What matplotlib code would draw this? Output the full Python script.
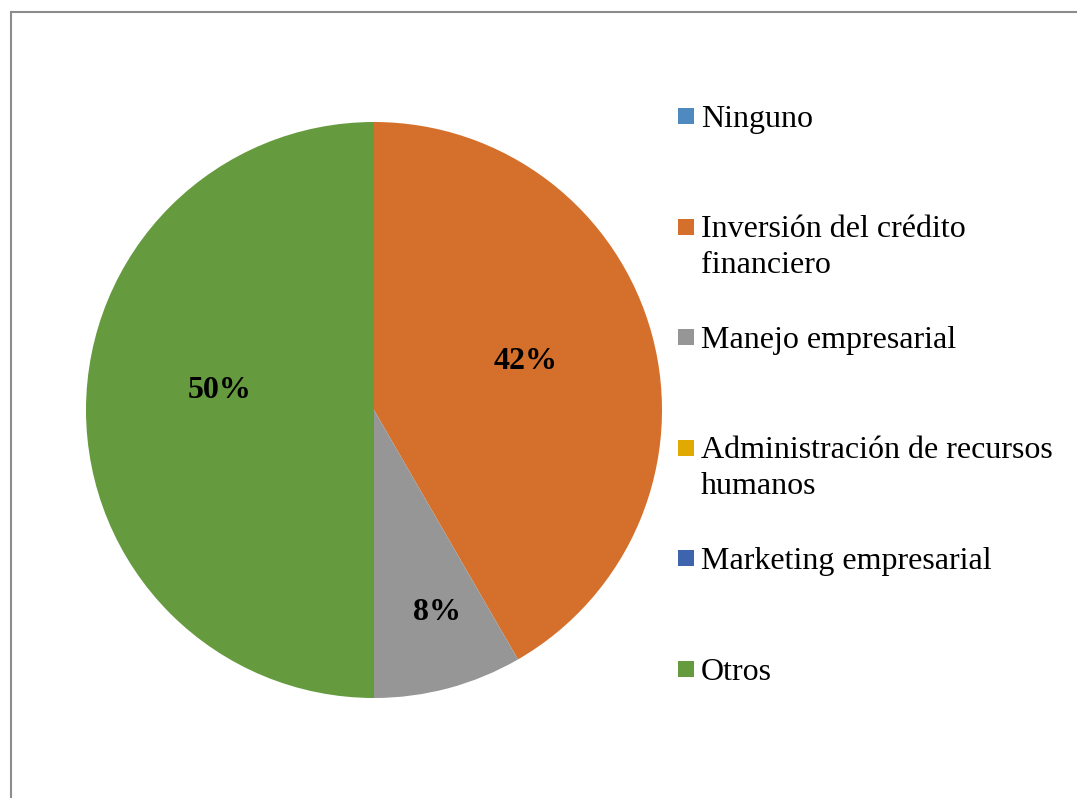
import matplotlib.pyplot as plt
from matplotlib.patches import Rectangle
from matplotlib.lines import Line2D

plt.rcParams['font.family'] = ['Liberation Serif', 'DejaVu Serif']

# Data (counts; shown as 42%, 8%, 50%)
categories = ["Ninguno", "Inversión del crédito\nfinanciero", "Manejo empresarial",
              "Administración de recursos\nhumanos", "Marketing empresarial", "Otros"]
values = [0, 5, 1, 0, 0, 6]
colors = ['#4E8AC0', '#D4702B', '#969696', '#E0AA00', '#3D64AD', '#659B3E']

fig = plt.figure(figsize=(10.77, 7.98), dpi=100)

# outer frame (right and bottom edges fall outside the image)
fig.add_artist(Line2D([10.5 / 1077, 1.0], [1 - 12 / 798, 1 - 12 / 798],
                      transform=fig.transFigure, color='#8C8C8C', lw=1.5))
fig.add_artist(Line2D([10.5 / 1077, 10.5 / 1077], [0.0, 1 - 12 / 798],
                      transform=fig.transFigure, color='#8C8C8C', lw=1.5))

# pie axes: centre (374, 410) px, radius 288 px
cx, cy, r = 374, 410, 288
ax = fig.add_axes([(cx - r) / 1077, 1 - (cy + r) / 798, 2 * r / 1077, 2 * r / 798])


def pct_fmt(p):
    return f"{p:.0f}%" if p > 0.5 else ""


wedges, texts, autotexts = ax.pie(values, colors=colors, startangle=90, counterclock=False,
                                  autopct=pct_fmt, pctdistance=0.55,
                                  wedgeprops=dict(linewidth=0),
                                  textprops=dict(fontsize=23, fontweight='bold', color='black'))
ax.set_xlim(-1, 1)
ax.set_ylim(-1, 1)

# Excel-like label placement (in units of radius)
label_pos = {1: (0.528, 0.170), 2: (0.218, -0.702), 5: (-0.535, 0.066)}
for i, (dx, dy) in label_pos.items():
    autotexts[i].set_position((dx, dy))
    autotexts[i].set_ha('center')
    autotexts[i].set_va('center')

# legend drawn by hand, evenly spaced like Excel's
top = 116
step = 110.6
sq = 16
line_h = 36
for i, (lab, col) in enumerate(zip(categories, colors)):
    yc = top + i * step
    fig.add_artist(Rectangle((678 / 1077, 1 - (yc + sq / 2) / 798), sq / 1077, sq / 798,
                             transform=fig.transFigure, facecolor=col, edgecolor='none'))
    for k, line in enumerate(lab.split('\n')):
        fig.text(701 / 1077, 1 - (yc + 10.5 + k * line_h) / 798, line, fontsize=23,
                 ha='left', va='baseline')

fig.savefig("out.png", dpi=100)
